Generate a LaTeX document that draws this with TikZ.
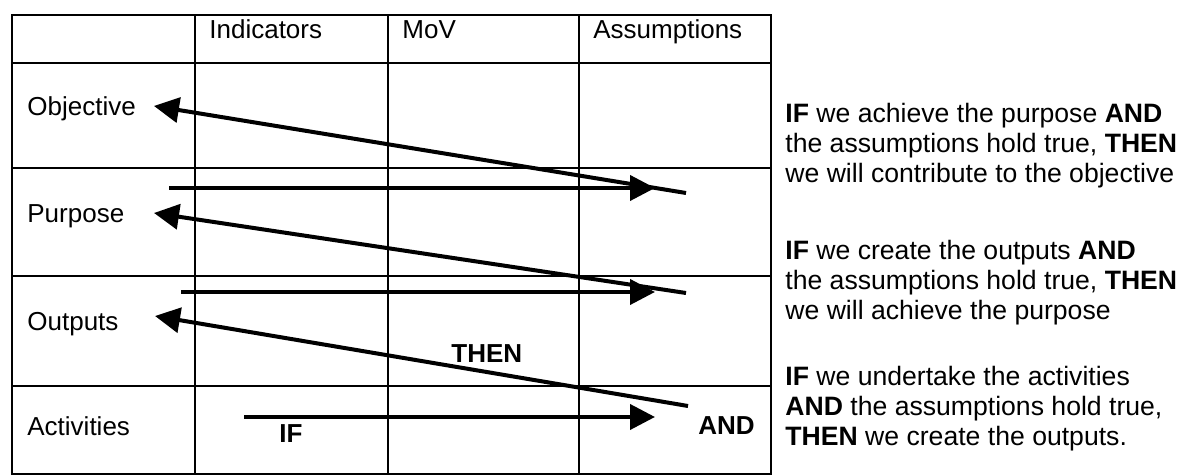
\documentclass[tikz,border=0pt]{standalone}
\usepackage{fontspec}
\setmainfont{Liberation Sans}
\usetikzlibrary{arrows.meta}

\begin{document}
\begin{tikzpicture}[x=0.5pt, y=-0.5pt,
  gridline/.style={line width=1pt},
  logic/.style={line width=2pt, -{Triangle[length=12.5pt, width=12.5pt]}},
  celltext/.style={anchor=base west, inner sep=0pt, font=\fontsize{13}{15}\selectfont},
  sidetext/.style={anchor=base west, inner sep=0pt, align=left, font=\fontsize{13.3}{15}\selectfont}]

\useasboundingbox (0,0) rectangle (1179,475);

% logframe grid
\draw[gridline] (12,15) rectangle (771,474);
\foreach \y in {63,168,276,386}
  \draw[gridline] (12,\y) -- (771,\y);
\foreach \x in {195,388,579}
  \draw[gridline] (\x,15) -- (\x,474);

% column heads
\node[celltext] (indicators) at (209,39) {Indicators};
\node[celltext] (mov) at (402,39) {MoV};
\node[celltext] (assumptions) at (593,39) {Assumptions};

% row heads
\node[celltext] (objective) at (27,116) {Objective};
\node[celltext] (purpose) at (27,223) {Purpose};
\node[celltext] (outputs) at (27,331) {Outputs};
\node[celltext] (activities) at (27,436) {Activities};

% logic words
\node[celltext, font=\fontsize{13}{15}\selectfont\bfseries] (then) at (451,363) {THEN};
\node[celltext, font=\fontsize{13}{15}\selectfont\bfseries] (if) at (279,443) {IF};
\node[celltext, font=\fontsize{13}{15}\selectfont\bfseries] (and) at (698,435) {AND};

% arrow ends
\coordinate (objtail) at (686,193);
\coordinate (objtip) at (154,106);
\coordinate (purstart) at (169,188);
\coordinate (purend) at (655,188);
\coordinate (purtail) at (686,293);
\coordinate (purtip) at (154,213);
\coordinate (outstart) at (181,292);
\coordinate (outend) at (655,292);
\coordinate (outtail) at (688,406);
\coordinate (outtip) at (155,316);
\coordinate (actstart) at (244,417);
\coordinate (actend) at (655,417);

\draw[logic] (objtail) -- (objtip);
\draw[logic] (purstart) -- (purend);
\draw[logic] (purtail) -- (purtip);
\draw[logic] (outstart) -- (outend);
\draw[logic] (outtail) -- (outtip);
\draw[logic] (actstart) -- (actend);

% reading of the logic (base = last line)
\node[sidetext] (toobjective) at (785,183)
  {\textbf{IF} we achieve the purpose \textbf{AND}\\
   the assumptions hold true, \textbf{THEN}\\
   we will contribute to the objective};
\node[sidetext] (topurpose) at (785,320)
  {\textbf{IF} we create the outputs \textbf{AND}\\
   the assumptions hold true, \textbf{THEN}\\
   we will achieve the purpose};
\node[sidetext] (tooutputs) at (785,446)
  {\textbf{IF} we undertake the activities\\
   \textbf{AND} the assumptions hold true,\\
   \textbf{THEN} we create the outputs.};

\end{tikzpicture}
\end{document}
